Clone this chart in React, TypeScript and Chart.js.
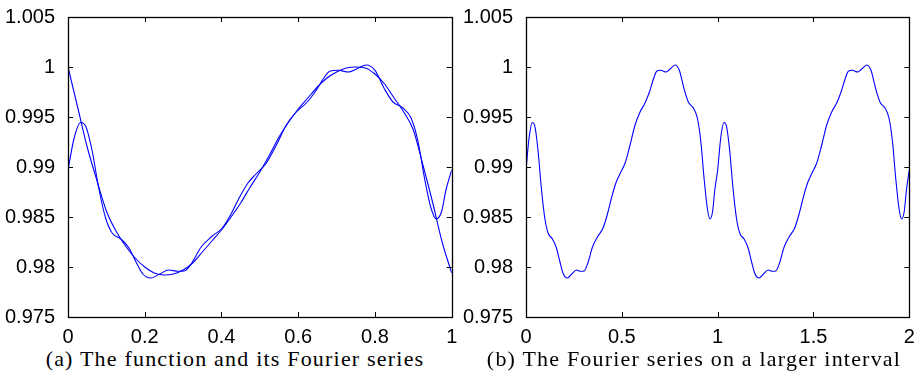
import React, { useEffect, useRef } from "react";
import { Chart, registerables } from "chart.js";

Chart.register(...registerables);

// The function on [0, 1]
const fX = [0, 0.025, 0.05, 0.075, 0.1, 0.125, 0.15, 0.175, 0.2, 0.225, 0.25, 0.275, 0.3, 0.325, 0.35, 0.375, 0.4, 0.425, 0.45, 0.475, 0.5, 0.525, 0.55, 0.575, 0.6, 0.625, 0.65, 0.675, 0.7, 0.725, 0.75, 0.775, 0.8, 0.825, 0.85, 0.875, 0.9, 0.925, 0.95, 0.975, 1.0];
const fY = [1.0, 0.996, 0.992, 0.9887, 0.9856, 0.9836, 0.9821, 0.9809, 0.98, 0.9794, 0.9792, 0.9793, 0.9797, 0.9804, 0.9815, 0.9826, 0.9837, 0.985, 0.9864, 0.988, 0.9895, 0.9912, 0.993, 0.9945, 0.9958, 0.9969, 0.998, 0.9989, 0.9995, 0.9999, 1.0, 0.9999, 0.9993, 0.9983, 0.9969, 0.9955, 0.9937, 0.9902, 0.9865, 0.9825, 0.9794];

// Its Fourier series on one period [0, 1]
const fourierX = [0, 0.016, 0.033, 0.047, 0.063, 0.08, 0.098, 0.115, 0.138, 0.158, 0.176, 0.195, 0.216, 0.239, 0.263, 0.286, 0.303, 0.321, 0.347, 0.373, 0.402, 0.425, 0.446, 0.469, 0.49, 0.517, 0.543, 0.569, 0.595, 0.621, 0.644, 0.665, 0.682, 0.703, 0.731, 0.752, 0.778, 0.8, 0.825, 0.847, 0.873, 0.894, 0.912, 0.929, 0.946, 0.96, 0.974, 0.985, 1.0];
const fourierY = [0.9897, 0.9929, 0.99445, 0.994, 0.9916, 0.9879, 0.9849, 0.9834, 0.9828, 0.98195, 0.9806, 0.9793, 0.9789, 0.9793, 0.9797, 0.97957, 0.9796, 0.9803, 0.982, 0.983, 0.9839, 0.9853, 0.9869, 0.9884, 0.9893, 0.9904, 0.9922, 0.9942, 0.9955, 0.9964, 0.9975, 0.9988, 0.99957, 0.99967, 0.9995, 0.9998, 1.0002, 0.99967, 0.9978, 0.9965, 0.9959, 0.9949, 0.9926, 0.9889, 0.9859, 0.9848, 0.9856, 0.9877, 0.9897];

// Periods shown in panel (b)
const periodsB = [0, 1];

const yTicks = [0.975, 0.98, 0.985, 0.99, 0.995, 1, 1.005];
const yTickLabels = ["0.975", "0.98", "0.985", "0.99", "0.995", "1", "1.005"];
const xTicksA = [0, 0.2, 0.4, 0.6, 0.8, 1];
const xTickLabelsA = ["0", "0.2", "0.4", "0.6", "0.8", "1"];
const xTicksB = [0, 0.5, 1, 1.5, 2];
const xTickLabelsB = ["0", "0.5", "1", "1.5", "2"];

const captionA = "(a) The function and its Fourier series";
const captionB = "(b) The Fourier series on a larger interval";

const LINE = "#0000ff";
const CANVAS_H = 345;
const PLOT_BOTTOM = 317;

const framePlugin = {
  id: "frameTicks",
  afterDraw(chart: any) {
    const { ctx, chartArea } = chart;
    const { left, right, top, bottom } = chartArea;
    const xs = chart.scales.x;
    const ys = chart.scales.y;
    const len = 5;
    ctx.save();
    ctx.strokeStyle = "#000";
    ctx.lineWidth = 1;
    ctx.beginPath();
    xs.ticks.forEach((t: any) => {
      const p = Math.round(xs.getPixelForValue(t.value)) + 0.5;
      ctx.moveTo(p, bottom);
      ctx.lineTo(p, bottom - len);
      ctx.moveTo(p, top);
      ctx.lineTo(p, top + len);
    });
    ys.ticks.forEach((t: any) => {
      const p = Math.round(ys.getPixelForValue(t.value)) + 0.5;
      ctx.moveTo(left, p);
      ctx.lineTo(left + len, p);
      ctx.moveTo(right, p);
      ctx.lineTo(right - len, p);
    });
    ctx.stroke();
    ctx.lineWidth = 1.3;
    ctx.strokeRect(Math.round(left) + 0.5, Math.round(top) + 0.5, Math.round(right) - Math.round(left), Math.round(bottom) - Math.round(top));
    ctx.restore();
  },
};

function makeConfig(datasets: any[], xMax: number, xTicks: number[], xLabels: string[], yWidth: number, padRight: number) {
  const tickFont = { family: "'Liberation Sans', Arial, Helvetica, sans-serif", size: 20 };
  return {
    type: "line",
    data: { datasets },
    plugins: [framePlugin],
    options: {
      animation: false,
      responsive: false,
      devicePixelRatio: 1,
      layout: { padding: { top: 15, right: padRight, bottom: 0, left: 0 } },
      plugins: { legend: { display: false }, tooltip: { enabled: false } },
      elements: { point: { radius: 0 } },
      scales: {
        x: {
          type: "linear",
          min: 0,
          max: xMax,
          grid: { display: false },
          border: { display: false },
          afterBuildTicks: (s: any) => {
            s.ticks = xTicks.map((v) => ({ value: v }));
          },
          afterFit: (s: any) => {
            s.height = CANVAS_H - PLOT_BOTTOM;
          },
          ticks: {
            autoSkip: false,
            maxRotation: 0,
            padding: 0,
            color: "#000",
            font: tickFont,
            callback: (v: number) => xLabels[xTicks.indexOf(v)],
          },
        },
        y: {
          type: "linear",
          min: 0.975,
          max: 1.005,
          grid: { display: false },
          border: { display: false },
          afterBuildTicks: (s: any) => {
            s.ticks = yTicks.map((v) => ({ value: v }));
          },
          afterFit: (s: any) => {
            s.width = yWidth;
          },
          ticks: {
            autoSkip: false,
            padding: 5,
            color: "#000",
            font: tickFont,
            callback: (v: number) => yTickLabels[yTicks.indexOf(v)],
          },
        },
      },
    },
  };
}

function lineDataset(xs: number[], ys: number[]) {
  return {
    data: xs.map((x, i) => ({ x, y: ys[i] })),
    borderColor: LINE,
    borderWidth: 1.1,
    pointRadius: 0,
    fill: false,
    cubicInterpolationMode: "monotone",
  };
}

function Panel(props: { config: any; left: number; width: number }) {
  const ref = useRef<HTMLCanvasElement | null>(null);
  useEffect(() => {
    if (!ref.current) return;
    const chart = new Chart(ref.current, props.config);
    return () => chart.destroy();
  }, []);
  return (
    <canvas
      ref={ref}
      width={props.width}
      height={CANVAS_H}
      style={{ position: "absolute", left: props.left, top: 0, width: props.width, height: CANVAS_H }}
    />
  );
}

export default function App() {
  const bX: number[] = [];
  const bY: number[] = [];
  periodsB.forEach((p, k) => {
    fourierX.forEach((x, i) => {
      if (k > 0 && i === 0) return;
      bX.push(x + p);
      bY.push(fourierY[i]);
    });
  });

  const configA = makeConfig(
    [lineDataset(fX, fY), lineDataset(fourierX, fourierY)],
    1,
    xTicksA,
    xTickLabelsA,
    68,
    460 - 68 - 383.7
  );
  const configB = makeConfig([lineDataset(bX, bY)], 2, xTicksB, xTickLabelsB, 71, 460 - 71 - 383.3);

  const captionStyle: any = {
    position: "absolute",
    top: 348,
    fontFamily: "'Liberation Serif', 'Times New Roman', serif",
    fontSize: 22,
    lineHeight: "22px",
    textAlign: "center",
    color: "#000",
    whiteSpace: "nowrap",
    letterSpacing: "1.2px",
  };

  return (
    <div style={{ position: "fixed", left: 0, top: 0, width: 915, height: 380, background: "#fff", overflow: "hidden" }}>
      <Panel config={configA} left={0} width={460} />
      <Panel config={configB} left={455} width={460} />
      <div style={{ ...captionStyle, left: 10, width: 450 }}>{captionA}</div>
      <div style={{ ...captionStyle, left: 474, width: 440 }}>{captionB}</div>
    </div>
  );
}
